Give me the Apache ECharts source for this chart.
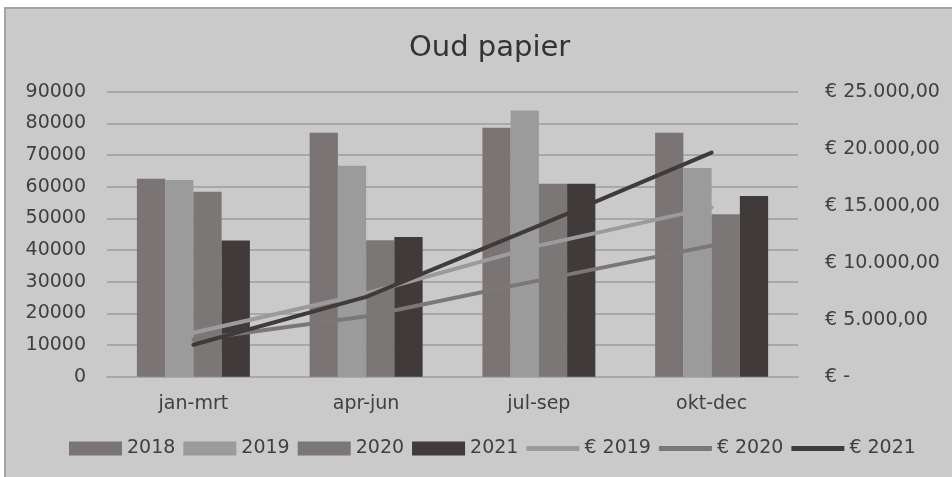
<!DOCTYPE html>
<html>
<head>
<meta charset="utf-8">
<script src="https://cdn.jsdelivr.net/npm/echarts@6/dist/echarts.min.js"></script>
<style>
html,body{margin:0;padding:0;background:#fff;}
#chart{width:952px;height:477px;}
</style>
</head>
<body>
<div id="chart"></div>
<script>
var titleText = 'Oud papier';
var categories = ['jan-mrt', 'apr-jun', 'jul-sep', 'okt-dec'];
var bar2018 = [62500, 77000, 78600, 77000];
var bar2019 = [62100, 66600, 84100, 65900];
var bar2020 = [58400, 43100, 60900, 51300];
var bar2021 = [43000, 44100, 60900, 57100];
var euro2019 = [3850, 7300, 11500, 14850];
var euro2020 = [3250, 5300, 8450, 11500];
var euro2021 = [2800, 7000, 13250, 19650];
var leftTicks = {min: 0, max: 90000, interval: 10000};
var rightTicks = {min: 0, max: 25000, interval: 5000};

var font = 'DejaVu Sans';
var txt = '#404040';
var gridColor = '#a8a8a8';
var c2018 = '#7a7574', c2019 = '#9c9b9b', c2020 = '#7b7776', c2021 = '#403a3a';
var lineIcon = 'path://M0,0H53V5H0Z';

function euroFmt(v) {
  if (v === 0) return '€ -';
  var s = String(Math.round(v)).replace(/\B(?=(\d{3})+(?!\d))/g, '.');
  return '€ ' + s + ',00';
}

var chart = echarts.init(document.getElementById('chart'), null, {renderer: 'canvas'});
function barS(name, data, color) {
  return {name: name, type: 'bar', data: data, yAxisIndex: 0, barGap: '0%', barCategoryGap: '34.6%',
    itemStyle: {color: color}};
}
function lineS(name, data, color) {
  return {name: name, type: 'line', data: data, yAxisIndex: 1, symbol: 'none', showSymbol: false,
    lineStyle: {color: color, width: 4, cap: 'round'}, itemStyle: {color: color}, z: 5};
}
chart.setOption({
  animation: false,
  backgroundColor: '#ffffff',
  textStyle: {fontFamily: font},
  graphic: [{
    type: 'rect', z: -100, silent: true,
    shape: {x: 5, y: 8, width: 980, height: 500},
    style: {fill: '#cacaca', stroke: '#a3a3a3', lineWidth: 2}
  }],
  title: {
    text: titleText, left: 404, top: 29,
    textStyle: {fontFamily: font, fontSize: 29, fontWeight: 'normal', color: '#333'}
  },
  legend: {
    left: 64, top: 434,
    itemWidth: 53, itemHeight: 14, itemGap: 8,
    textStyle: {fontFamily: font, fontSize: 19, color: txt},
    data: [
      {name: '2018', icon: 'rect'},
      {name: '2019', icon: 'rect'},
      {name: '2020', icon: 'rect'},
      {name: '2021', icon: 'rect'},
      {name: '€ 2019', icon: lineIcon},
      {name: '€ 2020', icon: lineIcon},
      {name: '€ 2021', icon: lineIcon}
    ]
  },
  grid: {left: 107, right: 154, top: 91.7, bottom: 100.3, containLabel: false},
  xAxis: {
    type: 'category', data: categories,
    axisTick: {show: false},
    axisLine: {lineStyle: {color: gridColor, width: 2}},
    axisLabel: {fontFamily: font, fontSize: 19, color: txt, margin: 18}
  },
  yAxis: [{
    type: 'value', min: leftTicks.min, max: leftTicks.max, interval: leftTicks.interval,
    axisLine: {show: false}, axisTick: {show: false},
    splitLine: {lineStyle: {color: gridColor, width: 2}},
    axisLabel: {fontFamily: font, fontSize: 19, color: txt, margin: 21,
      formatter: function (v) { return String(v); }}
  }, {
    type: 'value', min: rightTicks.min, max: rightTicks.max, interval: rightTicks.interval,
    position: 'right',
    axisLine: {show: false}, axisTick: {show: false}, splitLine: {show: false},
    axisLabel: {fontFamily: font, fontSize: 19, color: txt, margin: 27, formatter: euroFmt}
  }],
  series: [
    barS('2018', bar2018, c2018),
    barS('2019', bar2019, c2019),
    barS('2020', bar2020, c2020),
    barS('2021', bar2021, c2021),
    lineS('€ 2019', euro2019, c2019),
    lineS('€ 2020', euro2020, c2020),
    lineS('€ 2021', euro2021, c2021)
  ]
});
</script>
</body>
</html>
